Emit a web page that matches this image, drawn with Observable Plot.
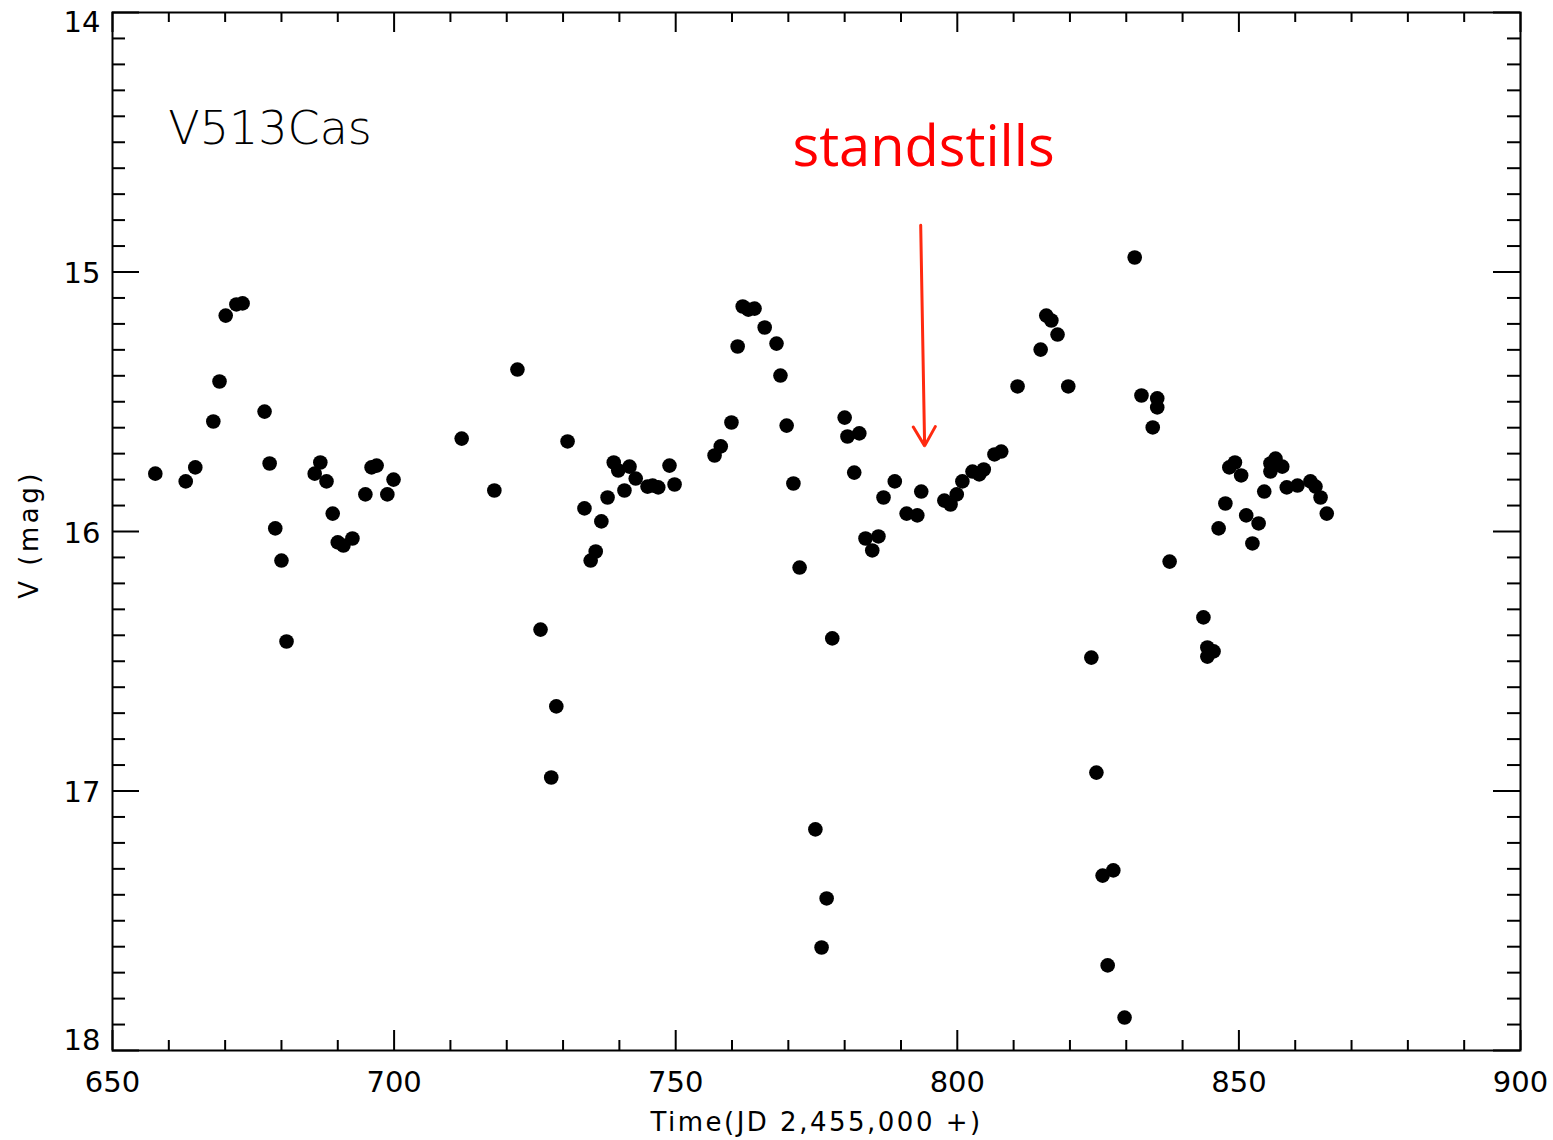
<!DOCTYPE html>
<html>
<head>
<meta charset="utf-8">
<script src="https://cdn.jsdelivr.net/npm/d3@7"></script>
<script src="https://cdn.jsdelivr.net/npm/@observablehq/plot@0.6"></script>
<style>
  html, body { margin: 0; padding: 0; background: #fff; }
  #chart svg { display: block; }
</style>
</head>
<body>
<div id="chart"></div>
<script>
// Observation times (JD 2,455,000 +)
const jd = [
  657.6, 663.0, 664.7, 667.9, 669.0, 670.1, 672.0, 673.1, 677.0, 677.9, 678.9, 680.0, 680.9,
  685.9, 686.9, 688.0, 689.1, 690.0, 691.0, 692.6, 694.9, 696.0, 696.9, 698.8, 699.9,
  712.0, 717.8, 721.9, 726.0, 727.9, 728.8, 730.8, 733.8, 734.9, 735.8, 736.8, 737.9, 739.0,
  739.8, 740.9, 741.8, 742.9, 745.0, 745.9, 746.9, 748.9, 749.8,
  756.9, 758.0, 759.9, 761.0, 761.9, 762.9, 764.0, 765.8, 767.9, 768.6, 769.7, 770.9, 772.0,
  774.8, 775.9, 776.8, 777.8, 780.0, 780.5, 781.7, 782.6, 783.7, 784.9, 786.0, 786.9, 788.9,
  791.0, 792.9, 793.6, 797.7, 798.8, 799.9, 800.9, 802.7, 803.9, 804.7, 806.6, 807.8,
  810.7, 814.8, 815.8, 816.7, 817.8, 819.7, 823.8, 824.7, 825.8, 826.7, 827.7, 829.7, 831.5,
  832.7, 834.7, 835.5, 835.5, 837.7, 843.7, 844.4, 844.4, 845.5, 846.4, 847.6, 848.3, 849.3,
  850.4, 851.3, 852.4, 853.5, 854.5, 855.6, 855.6, 856.5, 857.7, 858.5, 860.4, 862.7, 863.6,
  864.5, 865.6
];
// V magnitudes
const vmag = [
  15.777, 15.807, 15.753, 15.576, 15.422, 15.168, 15.125, 15.121, 15.538, 15.738, 15.988, 16.112, 16.424,
  15.777, 15.734, 15.807, 15.931, 16.042, 16.054, 16.027, 15.857, 15.753, 15.746, 15.857, 15.800,
  15.642, 15.842, 15.376, 16.378, 16.948, 16.674, 15.653, 15.911, 16.112, 16.077, 15.961, 15.869, 15.734,
  15.765, 15.842, 15.750, 15.796, 15.827, 15.823, 15.830, 15.746, 15.819,
  15.707, 15.672, 15.580, 15.287, 15.133, 15.145, 15.141, 15.214, 15.276, 15.399, 15.592, 15.815, 16.139,
  17.148, 17.603, 17.414, 16.412, 15.561, 15.634, 15.773, 15.622, 16.027, 16.073, 16.019, 15.869, 15.807,
  15.931, 15.938, 15.846, 15.881, 15.896, 15.857, 15.807, 15.769, 15.780, 15.761, 15.703, 15.692,
  15.441, 15.299, 15.168, 15.187, 15.241, 15.441, 16.486, 16.929, 17.326, 17.672, 17.306, 17.873, 14.944,
  15.476, 15.599, 15.487, 15.522, 16.116, 16.331, 16.447, 16.482, 16.462, 15.988, 15.892, 15.753, 15.734,
  15.784, 15.938, 16.046, 15.969, 15.846, 15.738, 15.769, 15.719, 15.750, 15.830, 15.823, 15.807, 15.827,
  15.869, 15.931
];

// Axis ticks
const xMajor = [650, 700, 750, 800, 850, 900];
const xMinor = d3.range(650, 901, 10).filter(v => v % 50 !== 0);
const yMajor = [14, 15, 16, 17, 18];
const yMinor = d3.range(140, 181, 1).filter(v => v % 10 !== 0).map(v => v / 10);

// Annotations
const starName = ["V513Cas"];
const starNameX = [659.9];
const starNameY = [14.505];
const noteText = ["standstills"];
const noteX = [794.0];
const noteY = [14.59];
const arrowX1 = [793.5], arrowY1 = [14.82];
const arrowX2 = [794.2], arrowY2 = [15.67];
const xLabel = "Time(JD 2,455,000 +)";
const yLabel = "V (mag)";

const points = jd.map((t, i) => ({t, v: vmag[i]}));

const W = 1553, H = 1140;
const mL = 112, mR = 33, mT = 12, mB = 90;
const iW = W - mL - mR, iH = H - mT - mB;
const fmt = d => String(d);

const chart = Plot.plot({
  width: W,
  height: H,
  marginLeft: mL,
  marginRight: mR,
  marginTop: mT,
  marginBottom: mB,
  style: {fontFamily: "DejaVu Sans", background: "#fff", color: "#000"},
  x: {domain: [650, 900]},
  y: {domain: [14, 18], reverse: true},
  marks: [
    // tick marks inside the box (bottom/top)
    Plot.tickX(xMajor, {x: d => d, insetTop: iH - 20, strokeWidth: 2}),
    Plot.tickX(xMinor, {x: d => d, insetTop: iH - 10, strokeWidth: 2}),
    Plot.tickX(xMajor, {x: d => d, insetBottom: iH - 20, strokeWidth: 2}),
    Plot.tickX(xMinor, {x: d => d, insetBottom: iH - 10, strokeWidth: 2}),
    // tick marks inside the box (left/right)
    Plot.tickY(yMajor, {y: d => d, insetRight: iW - 27, strokeWidth: 2}),
    Plot.tickY(yMinor, {y: d => d, insetRight: iW - 13, strokeWidth: 2}),
    Plot.tickY(yMajor, {y: d => d, insetLeft: iW - 27, strokeWidth: 2}),
    Plot.tickY(yMinor, {y: d => d, insetLeft: iW - 13, strokeWidth: 2}),
    Plot.frame({strokeWidth: 2}),
    // tick labels
    Plot.axisX(xMajor, {anchor: "bottom", tickSize: 0, tickPadding: 21, fontSize: 29, label: null, tickFormat: fmt}),
    Plot.axisY(yMajor.slice(0, 1), {anchor: "left", tickSize: 0, tickPadding: 12, fontSize: 29, label: null, tickFormat: fmt, dy: 10}),
    Plot.axisY(yMajor.slice(1, 4), {anchor: "left", tickSize: 0, tickPadding: 12, fontSize: 29, label: null, tickFormat: fmt, dy: 2}),
    Plot.axisY(yMajor.slice(4), {anchor: "left", tickSize: 0, tickPadding: 12, fontSize: 29, label: null, tickFormat: fmt, dy: -10}),
    // axis titles
    Plot.text([xLabel], {frameAnchor: "bottom", text: d => d, dy: 80, lineAnchor: "bottom",
      textAnchor: "middle", fontSize: 26}),
    Plot.text([yLabel], {frameAnchor: "left", text: d => d, dx: -75, dy: 3, rotate: -90,
      lineAnchor: "bottom", textAnchor: "middle", fontSize: 26}),
    // data
    Plot.dot(points, {x: "t", y: "v", r: 7.3, fill: "#000", stroke: "none"}),
    // star name
    Plot.text(starName, {x: (d, i) => starNameX[i], y: (d, i) => starNameY[i], text: d => d,
      textAnchor: "start", lineAnchor: "bottom", fontSize: 46, fontWeight: 300}),
    // standstills annotation
    Plot.text(noteText, {x: (d, i) => noteX[i], y: (d, i) => noteY[i], text: d => d,
      textAnchor: "middle", lineAnchor: "bottom", fontSize: 56, fill: "#ff0000",
      fontFamily: "Open Sans"}),
    Plot.arrow(arrowX1, {x1: (d, i) => arrowX1[i], y1: (d, i) => arrowY1[i],
      x2: (d, i) => arrowX2[i], y2: (d, i) => arrowY2[i],
      stroke: "#ff2a10", strokeWidth: 3, headLength: 11, headAngle: 60})
  ]
});

document.getElementById("chart").appendChild(chart);
// letter spacing for the axis titles (wide vector-font look)
chart.querySelectorAll("text").forEach(t => {
  if (t.textContent === yLabel) t.setAttribute("letter-spacing", "3.5");
  if (t.textContent === xLabel) t.setAttribute("letter-spacing", "2.5");
});
</script>
</body>
</html>
